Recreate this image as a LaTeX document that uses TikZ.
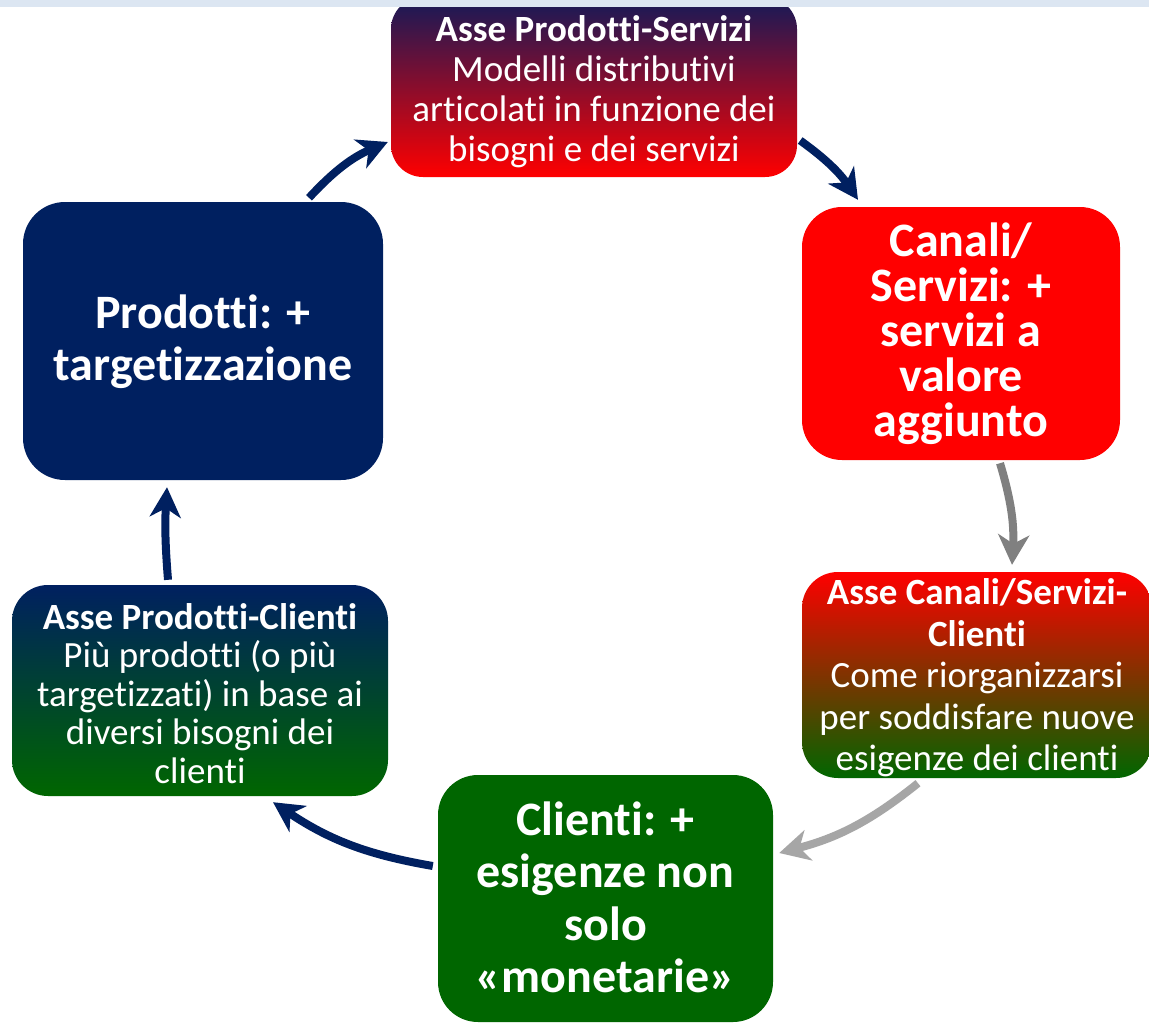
\documentclass[tikz,border=0pt]{standalone}
\usepackage{fontspec}
\setmainfont{Carlito}[Ligatures={NoCommon}]
\usetikzlibrary{arrows.meta}
\definecolor{navy}{HTML}{002060}
\definecolor{deepnavy}{HTML}{141A58}
\definecolor{pred}{HTML}{FF0000}
\definecolor{pgreen}{HTML}{006600}
\definecolor{band}{HTML}{DCE6F2}
\definecolor{midgray}{HTML}{808080}
\definecolor{lightgray}{HTML}{A6A6A6}
\begin{document}
\begin{tikzpicture}[x=1pt,y=1pt,
  box/.style={rounded corners=#1, inner sep=0pt},
  txt/.style={inner sep=0pt, align=center, text=white},
  arr/.style={line width=8pt, -{Stealth[length=30pt,width=31pt,inset=9pt]}},
]
\useasboundingbox (0,0) rectangle (1149,-1023);
\clip (0,0) rectangle (1149,-1023);
\fill[white] (0,0) rectangle (1149,-1023);

% top box
\node[box=32pt, minimum width=406pt, minimum height=180pt,
      top color=deepnavy, bottom color=pred] (b1) at (594,-87) {};
\node[txt, font=\fontsize{37}{40}\selectfont] (b1t) at ([yshift=-5]b1.center)
  {\textbf{Asse Prodotti-Servizi}\\Modelli distributivi\\articolati in funzione dei\\bisogni e dei servizi};

% right box
\node[box=40pt, minimum width=318pt, minimum height=253pt, fill=pred] (b2) at (961,-333.5) {};
\node[txt, font=\bfseries\fontsize{48}{45}\selectfont] (b2t) at (b2.center)
  {Canali/\\Servizi: +\\servizi a\\valore\\aggiunto};

% right lower box
\node[box=36pt, minimum width=350pt, minimum height=206pt,
      top color=pred, bottom color=pgreen] (b3) at (977,-675) {};
\node[txt, font=\fontsize{37}{41.5}\selectfont] (b3t) at ([yshift=-3]b3.center)
  {\textbf{Asse Canali/Servizi-}\\\textbf{Clienti}\\Come riorganizzarsi\\per soddisfare nuove\\esigenze dei clienti};

% bottom box
\node[box=40pt, minimum width=335pt, minimum height=247pt, fill=pgreen] (b4) at (605.5,-898.5) {};
\node[txt, font=\bfseries\fontsize{48}{52.5}\selectfont] (b4t) at ([yshift=1]b4.center)
  {Clienti: +\\esigenze non\\solo\\«monetarie»};

% left lower box
\node[box=36pt, minimum width=376pt, minimum height=211pt,
      top color=navy, bottom color=pgreen] (b5) at (200,-690.5) {};
\node[txt, font=\fontsize{37}{38.5}\selectfont] (b5t) at ([yshift=-3]b5.center)
  {\textbf{Asse Prodotti-Clienti}\\Più prodotti (o più\\targetizzati) in base ai\\diversi bisogni dei\\clienti};

% left box
\node[box=42pt, minimum width=360pt, minimum height=278pt, fill=navy] (b6) at (203,-341) {};
\node[txt, font=\bfseries\fontsize{48}{52}\selectfont] (b6t) at ([yshift=-1]b6.center)
  {Prodotti: +\\targetizzazione};

% arrows
\draw[arr, navy] ([shift={(106,4)}]b6.north) to[bend left=12] ([shift={(-3,-55)}]b1.west);
\draw[arr, navy] ([shift={(3,-53.5)}]b1.east) to[bend left=10] ([shift={(-103,7)}]b2.north);
\draw[arr, midgray] ([shift={(39,-3)}]b2.south) to[bend left=10] ([shift={(35,7)}]b3.north);
\draw[arr, lightgray] ([shift={(-59,-5)}]b3.south) to[bend left=12] ([shift={(6,45.5)}]b4.east);
\draw[arr, navy] ([shift={(-5,32.5)}]b4.west) to[bend left=12] ([shift={(73,-6)}]b5.south);
\draw[arr, navy] ([shift={(-32,5)}]b5.north) to[bend left=4] ([shift={(-36,-7)}]b6.south);

% top band
\fill[band] (0,0) rectangle (1149,-7);
\end{tikzpicture}
\end{document}
